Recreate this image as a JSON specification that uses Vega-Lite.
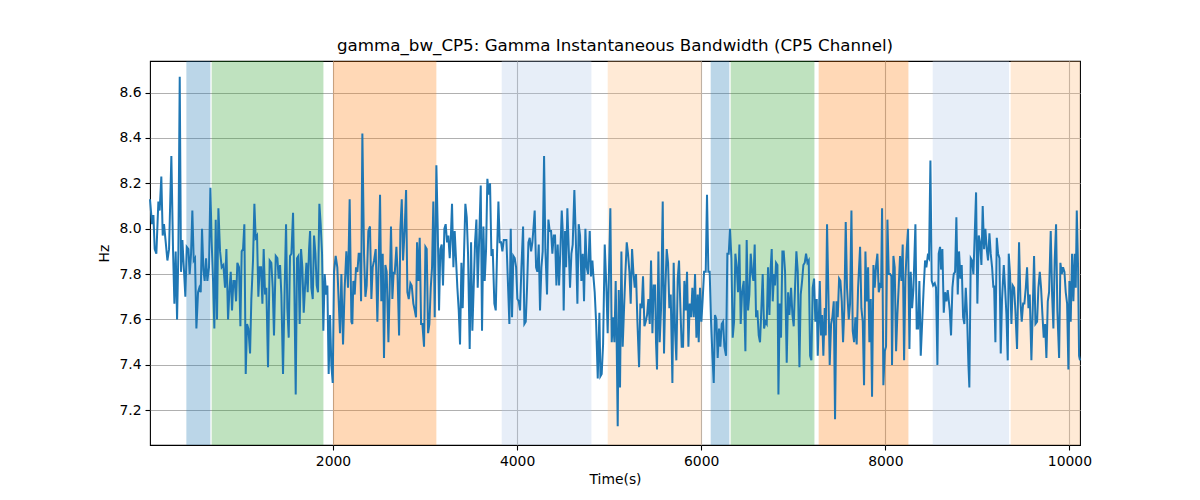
{
  "$schema": "https://vega.github.io/schema/vega-lite/v6.json",
  "width": 930,
  "height": 384,
  "autosize": "none",
  "padding": {"left": 150, "top": 61, "right": 120, "bottom": 55},
  "background": "white",
  "title": {
    "text": "gamma_bw_CP5: Gamma Instantaneous Bandwidth (CP5 Channel)",
    "font": "DejaVu Sans",
    "fontSize": 16.7,
    "fontWeight": "normal",
    "color": "black",
    "baseline": "alphabetic",
    "offset": 8,
    "dy": 15
  },
  "config": {
    "font": "DejaVu Sans",
    "view": {"stroke": "black", "strokeWidth": 1.1},
    "axis": {
      "domain": false,
      "grid": true,
      "gridColor": "#b0b0b0",
      "gridWidth": 1.1,
      "tickColor": "black",
      "tickSize": 5,
      "tickWidth": 1.1,
      "labelFont": "DejaVu Sans",
      "labelFontSize": 13.9,
      "labelColor": "black",
      "labelPadding": 4,
      "titleFont": "DejaVu Sans",
      "titleFontSize": 13.9,
      "titleFontWeight": "normal",
      "titleColor": "black"
    }
  },
  "datasets": {
    "bands": [
      {"start": 407, "end": 668, "state": "A"},
      {"start": 682, "end": 1896, "state": "B"},
      {"start": 2000, "end": 3123, "state": "C"},
      {"start": 3833, "end": 4807, "state": "D"},
      {"start": 4984, "end": 6005, "state": "E"},
      {"start": 6103, "end": 6306, "state": "A"},
      {"start": 6320, "end": 7230, "state": "B"},
      {"start": 7276, "end": 8251, "state": "C"},
      {"start": 8515, "end": 9344, "state": "D"},
      {"start": 9362, "end": 10115, "state": "E"}
    ],
    "signal": [
      {"t":12,"hz":8.13},{"t":34,"hz":8.02},{"t":49,"hz":8.06},{"t":63,"hz":7.91},{"t":81,"hz":7.89},{"t":103,"hz":8.12},{"t":117,"hz":8.08},{"t":135,"hz":8.23},{"t":150,"hz":7.97},{"t":164,"hz":8.02},{"t":183,"hz":7.94},{"t":201,"hz":7.86},{"t":219,"hz":7.91},{"t":244,"hz":8.32},{"t":262,"hz":7.91},{"t":277,"hz":7.67},{"t":291,"hz":7.90},{"t":306,"hz":7.60},{"t":320,"hz":7.89},{"t":335,"hz":8.67},{"t":349,"hz":7.81},{"t":364,"hz":7.95},{"t":378,"hz":7.84},{"t":396,"hz":7.70},{"t":411,"hz":7.92},{"t":429,"hz":7.91},{"t":443,"hz":7.80},{"t":458,"hz":7.89},{"t":472,"hz":8.08},{"t":487,"hz":7.86},{"t":501,"hz":7.87},{"t":516,"hz":7.56},{"t":534,"hz":7.72},{"t":548,"hz":7.74},{"t":563,"hz":7.72},{"t":577,"hz":8.00},{"t":592,"hz":7.82},{"t":606,"hz":7.77},{"t":621,"hz":7.87},{"t":635,"hz":7.77},{"t":653,"hz":7.83},{"t":668,"hz":8.18},{"t":682,"hz":7.94},{"t":697,"hz":7.77},{"t":711,"hz":7.56},{"t":726,"hz":8.04},{"t":740,"hz":7.60},{"t":755,"hz":8.09},{"t":773,"hz":7.90},{"t":791,"hz":7.83},{"t":809,"hz":7.84},{"t":827,"hz":7.74},{"t":842,"hz":7.91},{"t":860,"hz":7.60},{"t":874,"hz":7.72},{"t":889,"hz":7.81},{"t":903,"hz":7.64},{"t":918,"hz":7.77},{"t":932,"hz":7.77},{"t":947,"hz":7.68},{"t":961,"hz":7.85},{"t":979,"hz":7.83},{"t":994,"hz":7.57},{"t":1008,"hz":7.90},{"t":1023,"hz":7.91},{"t":1037,"hz":8.02},{"t":1052,"hz":7.36},{"t":1066,"hz":7.58},{"t":1081,"hz":7.56},{"t":1099,"hz":7.45},{"t":1113,"hz":7.69},{"t":1131,"hz":7.86},{"t":1146,"hz":8.11},{"t":1160,"hz":7.96},{"t":1175,"hz":7.97},{"t":1189,"hz":7.70},{"t":1204,"hz":7.83},{"t":1218,"hz":7.83},{"t":1233,"hz":7.67},{"t":1247,"hz":7.91},{"t":1262,"hz":7.71},{"t":1276,"hz":7.74},{"t":1294,"hz":7.39},{"t":1312,"hz":7.86},{"t":1330,"hz":7.85},{"t":1345,"hz":7.74},{"t":1359,"hz":7.53},
      {"t":1378,"hz":7.88},{"t":1396,"hz":7.87},{"t":1410,"hz":7.78},{"t":1425,"hz":7.84},{"t":1439,"hz":7.71},{"t":1457,"hz":7.36},{"t":1475,"hz":7.74},{"t":1490,"hz":8.02},{"t":1504,"hz":7.65},{"t":1519,"hz":7.52},{"t":1533,"hz":7.88},{"t":1548,"hz":7.89},{"t":1566,"hz":8.07},{"t":1580,"hz":7.74},{"t":1595,"hz":7.27},{"t":1609,"hz":7.87},{"t":1624,"hz":7.88},{"t":1638,"hz":7.58},{"t":1653,"hz":7.91},{"t":1667,"hz":7.83},{"t":1682,"hz":7.63},{"t":1696,"hz":7.74},{"t":1711,"hz":7.85},{"t":1725,"hz":7.72},{"t":1740,"hz":7.91},{"t":1751,"hz":7.99},{"t":1765,"hz":7.74},{"t":1780,"hz":7.69},{"t":1794,"hz":7.97},{"t":1809,"hz":7.89},{"t":1823,"hz":7.75},{"t":1837,"hz":7.72},{"t":1852,"hz":8.11},{"t":1866,"hz":8.02},{"t":1881,"hz":7.89},{"t":1895,"hz":7.55},{"t":1910,"hz":7.80},{"t":1924,"hz":7.71},{"t":1939,"hz":7.75},{"t":1953,"hz":7.36},{"t":1968,"hz":7.62},{"t":1982,"hz":7.40},{"t":1997,"hz":7.32},{"t":2011,"hz":7.81},{"t":2029,"hz":7.88},{"t":2047,"hz":7.83},{"t":2062,"hz":7.68},{"t":2076,"hz":7.54},{"t":2091,"hz":7.80},{"t":2109,"hz":7.49},{"t":2127,"hz":7.74},{"t":2145,"hz":7.90},{"t":2163,"hz":7.74},{"t":2181,"hz":8.13},{"t":2200,"hz":7.59},{"t":2210,"hz":7.58},{"t":2221,"hz":7.77},{"t":2236,"hz":7.71},{"t":2250,"hz":7.83},{"t":2265,"hz":7.81},{"t":2279,"hz":7.89},{"t":2294,"hz":7.89},{"t":2305,"hz":7.68},{"t":2319,"hz":8.42},{"t":2337,"hz":7.89},{"t":2352,"hz":7.70},{"t":2366,"hz":7.75},{"t":2384,"hz":7.99},{"t":2402,"hz":8.01},{"t":2417,"hz":7.69},{"t":2431,"hz":7.83},{"t":2446,"hz":7.86},{"t":2464,"hz":7.91},{"t":2482,"hz":7.59},{"t":2497,"hz":7.86},{"t":2511,"hz":8.15},{"t":2525,"hz":7.68},{"t":2540,"hz":7.89},{"t":2554,"hz":7.43},{"t":2569,"hz":7.84},{"t":2583,"hz":7.81},{"t":2602,"hz":7.50},{"t":2616,"hz":7.74},{"t":2630,"hz":8.01},{"t":2645,"hz":7.69},{"t":2659,"hz":7.81},
      {"t":2670,"hz":7.80},{"t":2689,"hz":7.92},{"t":2699,"hz":7.83},{"t":2718,"hz":7.53},{"t":2732,"hz":8.00},{"t":2747,"hz":8.13},{"t":2761,"hz":7.86},{"t":2779,"hz":8.00},{"t":2794,"hz":8.17},{"t":2808,"hz":7.72},{"t":2823,"hz":7.69},{"t":2841,"hz":7.76},{"t":2855,"hz":7.75},{"t":2873,"hz":7.67},{"t":2888,"hz":7.64},{"t":2902,"hz":7.61},{"t":2913,"hz":7.94},{"t":2928,"hz":7.77},{"t":2942,"hz":7.96},{"t":2957,"hz":7.58},{"t":2971,"hz":7.58},{"t":2989,"hz":7.48},{"t":3004,"hz":7.92},{"t":3018,"hz":7.91},{"t":3033,"hz":7.54},{"t":3047,"hz":7.58},{"t":3062,"hz":7.74},{"t":3076,"hz":7.83},{"t":3090,"hz":8.12},{"t":3105,"hz":7.61},{"t":3123,"hz":8.28},{"t":3138,"hz":8.00},{"t":3152,"hz":7.64},{"t":3166,"hz":7.91},{"t":3181,"hz":7.93},{"t":3195,"hz":7.75},{"t":3210,"hz":8.00},{"t":3224,"hz":8.02},{"t":3239,"hz":7.94},{"t":3253,"hz":7.97},{"t":3268,"hz":7.87},{"t":3279,"hz":7.95},{"t":3293,"hz":8.11},{"t":3308,"hz":7.83},{"t":3322,"hz":7.99},{"t":3337,"hz":7.86},{"t":3351,"hz":7.74},{"t":3366,"hz":7.64},{"t":3380,"hz":7.49},{"t":3395,"hz":7.85},{"t":3409,"hz":7.65},{"t":3424,"hz":7.90},{"t":3438,"hz":8.11},{"t":3453,"hz":8.05},{"t":3467,"hz":7.89},{"t":3485,"hz":7.47},{"t":3500,"hz":7.94},{"t":3514,"hz":7.55},{"t":3529,"hz":7.75},{"t":3543,"hz":7.94},{"t":3558,"hz":8.04},{"t":3572,"hz":7.74},{"t":3587,"hz":7.94},{"t":3605,"hz":8.19},{"t":3619,"hz":7.55},{"t":3634,"hz":8.01},{"t":3648,"hz":7.77},{"t":3663,"hz":7.91},{"t":3677,"hz":8.22},{"t":3692,"hz":8.15},{"t":3706,"hz":8.20},{"t":3721,"hz":7.88},{"t":3735,"hz":7.91},{"t":3753,"hz":7.67},{"t":3768,"hz":7.64},{"t":3782,"hz":7.89},{"t":3797,"hz":8.12},{"t":3811,"hz":7.94},{"t":3826,"hz":7.94},{"t":3840,"hz":7.90},{"t":3855,"hz":7.95},{"t":3869,"hz":7.95},{"t":3884,"hz":7.95},{"t":3898,"hz":7.79},{"t":3916,"hz":7.58},{"t":3931,"hz":8.00},{"t":3945,"hz":7.61},{"t":3959,"hz":7.88},
      {"t":3974,"hz":7.87},{"t":3989,"hz":7.83},{"t":4003,"hz":7.69},{"t":4018,"hz":7.68},{"t":4032,"hz":7.64},{"t":4047,"hz":7.83},{"t":4065,"hz":8.01},{"t":4079,"hz":7.58},{"t":4094,"hz":7.59},{"t":4108,"hz":7.74},{"t":4123,"hz":7.94},{"t":4137,"hz":7.96},{"t":4152,"hz":7.90},{"t":4166,"hz":7.94},{"t":4181,"hz":8.02},{"t":4191,"hz":8.08},{"t":4206,"hz":7.83},{"t":4220,"hz":7.81},{"t":4235,"hz":7.93},{"t":4249,"hz":7.64},{"t":4264,"hz":7.83},{"t":4278,"hz":7.90},{"t":4293,"hz":8.32},{"t":4307,"hz":7.91},{"t":4325,"hz":7.71},{"t":4340,"hz":8.04},{"t":4354,"hz":7.99},{"t":4369,"hz":7.99},{"t":4383,"hz":7.89},{"t":4398,"hz":7.97},{"t":4412,"hz":7.97},{"t":4427,"hz":7.75},{"t":4441,"hz":7.93},{"t":4456,"hz":7.75},{"t":4470,"hz":7.90},{"t":4485,"hz":8.08},{"t":4496,"hz":7.99},{"t":4506,"hz":7.64},{"t":4521,"hz":7.99},{"t":4532,"hz":7.83},{"t":4546,"hz":8.09},{"t":4561,"hz":7.91},{"t":4575,"hz":7.74},{"t":4590,"hz":7.89},{"t":4604,"hz":7.93},{"t":4622,"hz":8.17},{"t":4637,"hz":7.97},{"t":4655,"hz":7.67},{"t":4669,"hz":8.02},{"t":4684,"hz":7.97},{"t":4698,"hz":7.77},{"t":4713,"hz":7.89},{"t":4727,"hz":7.68},{"t":4742,"hz":8.00},{"t":4756,"hz":7.83},{"t":4771,"hz":7.80},{"t":4789,"hz":7.99},{"t":4803,"hz":7.79},{"t":4818,"hz":7.86},{"t":4829,"hz":7.79},{"t":4843,"hz":7.72},{"t":4858,"hz":7.59},{"t":4876,"hz":7.34},{"t":4894,"hz":7.63},{"t":4905,"hz":7.35},{"t":4919,"hz":7.36},{"t":4934,"hz":7.49},{"t":4952,"hz":7.93},{"t":4970,"hz":7.74},{"t":4984,"hz":7.54},{"t":4999,"hz":7.83},{"t":5013,"hz":8.09},{"t":5028,"hz":7.50},{"t":5042,"hz":7.61},{"t":5057,"hz":7.50},{"t":5071,"hz":7.77},{"t":5082,"hz":7.49},{"t":5093,"hz":7.13},{"t":5104,"hz":7.73},{"t":5118,"hz":7.30},{"t":5133,"hz":7.90},{"t":5147,"hz":7.48},{"t":5162,"hz":7.65},{"t":5176,"hz":7.80},{"t":5191,"hz":7.94},{"t":5205,"hz":7.89},{"t":5220,"hz":7.81},{"t":5234,"hz":7.67},{"t":5249,"hz":7.91},{"t":5263,"hz":7.81},
      {"t":5278,"hz":7.74},{"t":5292,"hz":7.80},{"t":5307,"hz":7.59},{"t":5325,"hz":7.39},{"t":5339,"hz":7.67},{"t":5354,"hz":7.65},{"t":5368,"hz":7.79},{"t":5383,"hz":7.57},{"t":5397,"hz":7.59},{"t":5412,"hz":7.62},{"t":5426,"hz":7.69},{"t":5441,"hz":7.58},{"t":5455,"hz":7.86},{"t":5470,"hz":7.54},{"t":5484,"hz":7.75},{"t":5499,"hz":7.75},{"t":5509,"hz":7.50},{"t":5520,"hz":7.38},{"t":5535,"hz":7.90},{"t":5549,"hz":7.50},{"t":5564,"hz":7.65},{"t":5582,"hz":8.12},{"t":5596,"hz":7.45},{"t":5611,"hz":7.74},{"t":5625,"hz":7.91},{"t":5640,"hz":7.85},{"t":5654,"hz":7.65},{"t":5669,"hz":7.71},{"t":5687,"hz":7.32},{"t":5701,"hz":7.85},{"t":5716,"hz":7.55},{"t":5730,"hz":7.42},{"t":5745,"hz":7.78},{"t":5759,"hz":7.86},{"t":5774,"hz":7.65},{"t":5788,"hz":7.48},{"t":5803,"hz":7.48},{"t":5817,"hz":7.77},{"t":5832,"hz":7.64},{"t":5846,"hz":7.81},{"t":5861,"hz":7.48},{"t":5875,"hz":7.67},{"t":5890,"hz":7.61},{"t":5904,"hz":7.74},{"t":5919,"hz":7.61},{"t":5933,"hz":7.80},{"t":5948,"hz":7.52},{"t":5962,"hz":7.71},{"t":5973,"hz":7.50},{"t":5987,"hz":7.74},{"t":6002,"hz":7.59},{"t":6016,"hz":7.69},{"t":6031,"hz":7.81},{"t":6049,"hz":7.81},{"t":6063,"hz":8.15},{"t":6078,"hz":7.81},{"t":6092,"hz":7.81},{"t":6107,"hz":7.59},{"t":6121,"hz":7.45},{"t":6136,"hz":7.32},{"t":6150,"hz":7.62},{"t":6165,"hz":7.60},{"t":6179,"hz":7.43},{"t":6194,"hz":7.56},{"t":6208,"hz":7.48},{"t":6223,"hz":7.58},{"t":6237,"hz":7.59},{"t":6252,"hz":7.48},{"t":6270,"hz":7.44},{"t":6284,"hz":7.89},{"t":6299,"hz":7.89},{"t":6313,"hz":8.00},{"t":6328,"hz":7.87},{"t":6342,"hz":7.52},{"t":6357,"hz":7.59},{"t":6371,"hz":7.89},{"t":6386,"hz":7.83},{"t":6400,"hz":7.72},{"t":6415,"hz":7.93},{"t":6429,"hz":7.58},{"t":6444,"hz":7.72},{"t":6462,"hz":7.77},{"t":6480,"hz":7.46},{"t":6494,"hz":7.95},{"t":6509,"hz":7.64},{"t":6523,"hz":7.71},{"t":6538,"hz":7.89},{"t":6552,"hz":7.81},{"t":6567,"hz":7.77},
      {"t":6581,"hz":7.93},{"t":6596,"hz":7.61},{"t":6610,"hz":7.64},{"t":6625,"hz":7.53},{"t":6639,"hz":7.50},{"t":6654,"hz":7.65},{"t":6668,"hz":7.80},{"t":6683,"hz":7.56},{"t":6697,"hz":7.59},{"t":6712,"hz":7.58},{"t":6726,"hz":7.83},{"t":6741,"hz":7.62},{"t":6755,"hz":7.83},{"t":6766,"hz":7.91},{"t":6777,"hz":7.68},{"t":6791,"hz":7.80},{"t":6802,"hz":7.75},{"t":6813,"hz":7.85},{"t":6828,"hz":7.84},{"t":6839,"hz":7.27},{"t":6853,"hz":7.67},{"t":6867,"hz":7.52},{"t":6882,"hz":7.90},{"t":6896,"hz":7.90},{"t":6911,"hz":7.81},{"t":6929,"hz":7.41},{"t":6944,"hz":7.72},{"t":6958,"hz":7.62},{"t":6976,"hz":7.74},{"t":6991,"hz":7.62},{"t":7005,"hz":7.57},{"t":7020,"hz":7.75},{"t":7034,"hz":7.90},{"t":7049,"hz":7.81},{"t":7067,"hz":7.39},{"t":7081,"hz":7.71},{"t":7096,"hz":7.77},{"t":7110,"hz":7.84},{"t":7125,"hz":7.85},{"t":7139,"hz":7.89},{"t":7154,"hz":7.85},{"t":7168,"hz":7.86},{"t":7183,"hz":7.44},{"t":7197,"hz":7.42},{"t":7211,"hz":7.74},{"t":7226,"hz":7.78},{"t":7240,"hz":7.59},{"t":7255,"hz":7.69},{"t":7266,"hz":7.44},{"t":7277,"hz":7.59},{"t":7288,"hz":7.77},{"t":7302,"hz":7.53},{"t":7313,"hz":7.62},{"t":7327,"hz":7.44},{"t":7342,"hz":7.65},{"t":7353,"hz":7.53},{"t":7367,"hz":8.02},{"t":7382,"hz":7.71},{"t":7396,"hz":7.40},{"t":7411,"hz":7.58},{"t":7425,"hz":7.61},{"t":7440,"hz":7.68},{"t":7454,"hz":7.16},{"t":7469,"hz":7.68},{"t":7483,"hz":7.61},{"t":7498,"hz":7.78},{"t":7512,"hz":7.77},{"t":7527,"hz":7.68},{"t":7541,"hz":7.50},{"t":7555,"hz":7.65},{"t":7570,"hz":8.03},{"t":7584,"hz":7.74},{"t":7603,"hz":7.60},{"t":7617,"hz":7.67},{"t":7632,"hz":8.08},{"t":7646,"hz":7.55},{"t":7661,"hz":7.50},{"t":7675,"hz":7.61},{"t":7689,"hz":7.49},{"t":7704,"hz":7.74},{"t":7726,"hz":7.92},{"t":7740,"hz":7.65},{"t":7755,"hz":7.59},{"t":7769,"hz":7.31},{"t":7784,"hz":7.90},{"t":7798,"hz":7.68},{"t":7813,"hz":7.83},{"t":7827,"hz":7.50},{"t":7842,"hz":7.69},{"t":7856,"hz":7.26},{"t":7871,"hz":7.84},
      {"t":7885,"hz":7.74},{"t":7900,"hz":7.84},{"t":7914,"hz":7.89},{"t":7929,"hz":7.72},{"t":7943,"hz":7.75},{"t":7954,"hz":7.74},{"t":7965,"hz":8.09},{"t":7979,"hz":7.31},{"t":7994,"hz":7.46},{"t":8008,"hz":7.48},{"t":8023,"hz":8.04},{"t":8037,"hz":7.80},{"t":8052,"hz":7.80},{"t":8066,"hz":7.79},{"t":8073,"hz":7.40},{"t":8088,"hz":7.88},{"t":8102,"hz":7.83},{"t":8117,"hz":7.46},{"t":8131,"hz":7.62},{"t":8146,"hz":7.75},{"t":8160,"hz":7.88},{"t":8175,"hz":7.77},{"t":8189,"hz":7.93},{"t":8204,"hz":7.42},{"t":8218,"hz":7.78},{"t":8233,"hz":7.91},{"t":8247,"hz":8.00},{"t":8262,"hz":7.47},{"t":8276,"hz":7.81},{"t":8291,"hz":7.65},{"t":8305,"hz":7.73},{"t":8327,"hz":8.02},{"t":8341,"hz":7.56},{"t":8356,"hz":7.56},{"t":8370,"hz":7.77},{"t":8385,"hz":7.44},{"t":8403,"hz":7.61},{"t":8417,"hz":7.74},{"t":8432,"hz":7.86},{"t":8446,"hz":7.83},{"t":8461,"hz":7.88},{"t":8475,"hz":7.87},{"t":8490,"hz":8.30},{"t":8504,"hz":7.77},{"t":8519,"hz":7.75},{"t":8537,"hz":7.76},{"t":8551,"hz":7.74},{"t":8566,"hz":7.40},{"t":8580,"hz":7.89},{"t":8595,"hz":7.92},{"t":8606,"hz":7.82},{"t":8620,"hz":7.91},{"t":8635,"hz":7.63},{"t":8649,"hz":7.72},{"t":8664,"hz":7.68},{"t":8678,"hz":7.73},{"t":8700,"hz":7.64},{"t":8714,"hz":7.53},{"t":8729,"hz":7.74},{"t":8743,"hz":7.80},{"t":8758,"hz":7.81},{"t":8772,"hz":8.05},{"t":8787,"hz":7.71},{"t":8801,"hz":7.90},{"t":8816,"hz":7.78},{"t":8830,"hz":7.84},{"t":8845,"hz":7.61},{"t":8859,"hz":7.58},{"t":8874,"hz":7.74},{"t":8888,"hz":7.62},{"t":8903,"hz":7.40},{"t":8913,"hz":7.30},{"t":8928,"hz":7.87},{"t":8942,"hz":7.86},{"t":8957,"hz":7.80},{"t":8971,"hz":7.97},{"t":8986,"hz":8.16},{"t":9000,"hz":7.67},{"t":9015,"hz":7.97},{"t":9029,"hz":7.94},{"t":9044,"hz":7.84},{"t":9058,"hz":8.10},{"t":9073,"hz":7.91},{"t":9087,"hz":8.00},{"t":9102,"hz":7.91},{"t":9116,"hz":7.86},{"t":9131,"hz":7.98},{"t":9145,"hz":7.89},{"t":9160,"hz":7.83},{"t":9174,"hz":7.74},
      {"t":9182,"hz":7.75},{"t":9196,"hz":7.50},{"t":9211,"hz":7.96},{"t":9225,"hz":7.89},{"t":9240,"hz":7.87},{"t":9254,"hz":7.45},{"t":9268,"hz":7.69},{"t":9287,"hz":7.84},{"t":9301,"hz":7.74},{"t":9316,"hz":7.62},{"t":9330,"hz":7.42},{"t":9341,"hz":7.89},{"t":9355,"hz":7.80},{"t":9370,"hz":7.58},{"t":9384,"hz":7.75},{"t":9399,"hz":7.74},{"t":9413,"hz":7.64},{"t":9431,"hz":7.47},{"t":9453,"hz":7.94},{"t":9468,"hz":7.68},{"t":9482,"hz":7.59},{"t":9497,"hz":7.67},{"t":9511,"hz":7.67},{"t":9526,"hz":7.74},{"t":9540,"hz":7.83},{"t":9555,"hz":7.65},{"t":9569,"hz":7.71},{"t":9587,"hz":7.42},{"t":9602,"hz":7.65},{"t":9616,"hz":7.88},{"t":9631,"hz":7.58},{"t":9649,"hz":7.59},{"t":9663,"hz":7.74},{"t":9678,"hz":7.81},{"t":9692,"hz":7.74},{"t":9707,"hz":7.62},{"t":9721,"hz":7.52},{"t":9736,"hz":7.58},{"t":9750,"hz":7.43},{"t":9765,"hz":7.68},{"t":9779,"hz":7.72},{"t":9797,"hz":7.99},{"t":9812,"hz":7.71},{"t":9826,"hz":7.56},{"t":9840,"hz":7.86},{"t":9855,"hz":8.02},{"t":9869,"hz":7.64},{"t":9888,"hz":7.43},{"t":9902,"hz":7.85},{"t":9917,"hz":7.80},{"t":9931,"hz":7.83},{"t":9946,"hz":7.81},{"t":9960,"hz":7.72},{"t":9975,"hz":7.67},{"t":9989,"hz":7.38},{"t":10000,"hz":7.77},{"t":10014,"hz":7.59},{"t":10029,"hz":7.89},{"t":10043,"hz":7.68},{"t":10058,"hz":7.89},{"t":10069,"hz":7.74},{"t":10080,"hz":8.08},{"t":10094,"hz":7.83},{"t":10105,"hz":7.44},{"t":10115,"hz":7.42}
    ]
  },
  "layer": [
    {
      "data": {"name": "bands"},
      "mark": {"type": "rect", "opacity": 0.3},
      "encoding": {
        "x": {
          "field": "start",
          "type": "quantitative",
          "scale": {"domain": [12, 10115], "nice": false, "zero": false},
          "axis": {"title": "Time(s)", "values": [2000, 4000, 6000, 8000, 10000], "format": "d", "titlePadding": 5, "labelFlush": false}
        },
        "x2": {"field": "end"},
        "color": {
          "field": "state",
          "type": "nominal",
          "scale": {"domain": ["A", "B", "C", "D", "E"], "range": ["#1f77b4", "#2ca02c", "#ff7f0e", "#aec7e8", "#ffbb78"]},
          "legend": null
        }
      }
    },
    {
      "data": {"name": "signal"},
      "mark": {"type": "line", "color": "#1f77b4", "strokeWidth": 2},
      "encoding": {
        "x": {"field": "t", "type": "quantitative"},
        "y": {
          "field": "hz",
          "type": "quantitative",
          "scale": {"domain": [7.047, 8.739], "nice": false, "zero": false},
          "axis": {"title": "Hz", "values": [7.2, 7.4, 7.6, 7.8, 8.0, 8.2, 8.4, 8.6], "format": ".1f", "titlePadding": 7, "labelFlush": false}
        }
      }
    }
  ]
}
